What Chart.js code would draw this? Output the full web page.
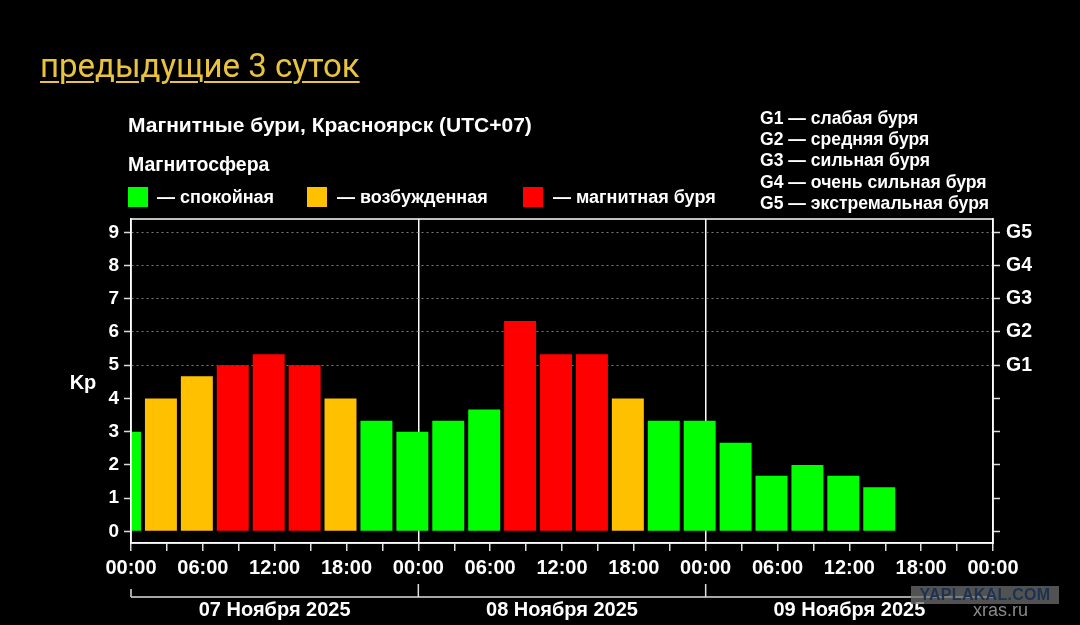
<!DOCTYPE html>
<html>
<head>
<meta charset="utf-8">
<script src="https://cdn.jsdelivr.net/npm/chart.js@4.4.1/dist/chart.umd.min.js"></script>
<style>
  html, body { margin: 0; padding: 0; background: #000; }
  #wrap { position: relative; width: 1080px; height: 625px; overflow: hidden; font-family: "Liberation Sans", Arial, sans-serif; color: #fff; }
  #chart { position: absolute; left: 0; top: 0; }
  .txt { position: absolute; white-space: nowrap; font-weight: bold; font-size: 18px; line-height: 1; }
  .title { position: absolute; left: 40px; top: 46px; font-family: Roboto, sans-serif; font-size: 33px; color: #e9c23e; text-decoration: underline; text-decoration-thickness: 2px; text-underline-offset: 4px; white-space: nowrap; }
  .sq { position: absolute; width: 20px; height: 20px; }
  .glist { position: absolute; left: 760px; top: 108px; font-weight: bold; font-size: 17.6px; line-height: 21.2px; white-space: nowrap; }
  .xras { position: absolute; left: 973px; top: 600px; font-size: 18px; color: #8a8a8a; font-family: "Liberation Sans", Arial, sans-serif; }
  .yap { position: absolute; left: 911px; top: 586px; width: 148px; height: 18px; background: rgba(110,110,110,0.75); color: #1b3350; font-weight: bold; font-size: 16px; line-height: 18px; text-align: center; letter-spacing: 0.3px; }
</style>
</head>
<body>
<div id="wrap">
  <canvas id="chart" width="1080" height="625"></canvas>
  <div class="title">предыдущие 3 суток</div>
  <div class="txt" style="left:128px; top:114px; font-size:21px;">Магнитные бури, Красноярск (UTC+07)</div>
  <div class="txt" style="left:128px; top:155px; font-size:19.5px;">Магнитосфера</div>
  <div class="sq" style="left:128px; top:187px; background:#00ff00;"></div>
  <div class="txt" style="left:157px; top:188px;">— спокойная</div>
  <div class="sq" style="left:307px; top:187px; background:#ffc000;"></div>
  <div class="txt" style="left:337px; top:188px;">— возбужденная</div>
  <div class="sq" style="left:523px; top:187px; background:#ff0000;"></div>
  <div class="txt" style="left:553px; top:188px;">— магнитная буря</div>
  <div class="glist" id="glist"></div>
  <div class="yap">YAPLAKAL.COM</div>
  <div class="xras">xras.ru</div>
</div>
<script>
// Kp index, 3-hour intervals (hours from 07.11 00:00 local)
const barHours = [-0.5, 2.5, 5.5, 8.5, 11.5, 14.5, 17.5, 20.5, 23.5, 26.5, 29.5,
                  32.5, 35.5, 38.5, 41.5, 44.5, 47.5, 50.5, 53.5, 56.5, 59.5, 62.5];
const kpValues = [3, 4, 4.67, 5, 5.33, 5, 4, 3.33, 3, 3.33, 3.67,
                  6.33, 5.33, 5.33, 4, 3.33, 3.33, 2.67, 1.67, 2, 1.67, 1.33];
const yTicks = [0, 1, 2, 3, 4, 5, 6, 7, 8, 9];
const gLabels = ['G1', 'G2', 'G3', 'G4', 'G5'];   // Kp 5..9
const gNames = ['слабая буря', 'средняя буря', 'сильная буря', 'очень сильная буря', 'экстремальная буря'];
const days = ['07 Ноября 2025', '08 Ноября 2025', '09 Ноября 2025'];

document.getElementById('glist').innerHTML =
    gLabels.map((g, i) => `${g} — ${gNames[i]}`).join('<br>');

const kpColor = v => v >= 5 ? '#ff0000' : (v >= 4 ? '#ffc000' : '#00ff00');
const fontFamily = '"Liberation Sans", Arial, sans-serif';

// frame, Kp title and day brackets
const decor = {
    id: 'decor',
    afterDraw(chart) {
        const { ctx, chartArea: a } = chart;
        const x = chart.scales.x;
        ctx.save();
        ctx.strokeStyle = '#fff';
        ctx.lineWidth = 1.5;
        ctx.strokeRect(a.left, a.top, a.right - a.left, a.bottom - a.top);

        ctx.strokeStyle = '#ddd';
        const by = 597;
        ctx.beginPath();
        ctx.moveTo(x.getPixelForValue(0), by);
        ctx.lineTo(x.getPixelForValue(72), by);
        [0, 24, 48, 72].forEach(h => {
            const px = x.getPixelForValue(h);
            ctx.moveTo(px, by);
            ctx.lineTo(px, (h === 0 || h === 72) ? 589 : 584);
        });
        ctx.stroke();

        ctx.fillStyle = '#fff';
        ctx.font = 'bold 20px ' + fontFamily;
        ctx.textAlign = 'center';
        ctx.textBaseline = 'middle';
        days.forEach((d, i) => {
            ctx.fillText(d, x.getPixelForValue(i * 24 + 12), 610);
        });
        ctx.fillText('Kp', 83, 383);
        ctx.restore();
    }
};

new Chart(document.getElementById('chart'), {
    type: 'bar',
    data: {
        datasets: [{
            data: barHours.map((h, i) => ({ x: h, y: kpValues[i] })),
            backgroundColor: kpValues.map(kpColor),
            borderWidth: 0,
            categoryPercentage: 1,
            barPercentage: 0.89,
            yAxisID: 'y'
        }]
    },
    options: {
        responsive: false,
        animation: false,
        devicePixelRatio: 1,
        layout: { padding: { top: 219, left: 0, right: 0, bottom: 0 } },
        plugins: { legend: { display: false }, tooltip: { enabled: false } },
        scales: {
            x: {
                type: 'linear',
                min: 0,
                max: 72,
                offset: false,
                afterBuildTicks: s => { s.ticks = Array.from({ length: 25 }, (_, i) => ({ value: i * 3 })); },
                afterFit: s => { s.height = 82; },
                ticks: {
                    color: '#fff',
                    font: { family: fontFamily, size: 20, weight: 'bold' },
                    padding: 5,
                    maxRotation: 0,
                    autoSkip: false,
                    callback: v => v % 6 === 0 ? String(v % 24).padStart(2, '0') + ':00' : ''
                },
                grid: {
                    offset: false,
                    color: c => (c.tick && (c.tick.value === 24 || c.tick.value === 48)) ? '#fff' : 'rgba(0,0,0,0)',
                    lineWidth: 1.5,
                    tickColor: '#ddd',
                    tickLength: 8,
                    tickWidth: 1.5
                },
                border: { color: '#fff', width: 1.5 }
            },
            y: {
                position: 'left',
                min: -0.35,
                max: 9.4,
                afterBuildTicks: s => { s.ticks = yTicks.map(v => ({ value: v })); },
                afterFit: s => { s.width = 131; },
                ticks: { color: '#fff', font: { family: fontFamily, size: 19, weight: 'bold' }, padding: 5 },
                grid: {
                    color: c => (c.tick && c.tick.value >= 5) ? '#7a7a7a' : 'rgba(0,0,0,0)',
                    lineWidth: 1,
                    tickColor: '#ddd',
                    tickLength: 7,
                    tickWidth: 1.5
                },
                border: { color: '#fff', width: 1.5, dash: [2, 3] }
            },
            y2: {
                position: 'right',
                min: -0.35,
                max: 9.4,
                afterBuildTicks: s => { s.ticks = yTicks.map(v => ({ value: v })); },
                afterFit: s => { s.width = 87; },
                ticks: {
                    color: '#fff',
                    font: { family: fontFamily, size: 19.5, weight: 'bold' },
                    padding: 6,
                    callback: v => v >= 5 ? gLabels[v - 5] : ''
                },
                grid: {
                    drawOnChartArea: false,
                    tickColor: '#ddd',
                    tickLength: 7,
                    tickWidth: 1.5
                },
                border: { color: '#fff', width: 1.5 }
            }
        }
    },
    plugins: [decor]
});
</script>
</body>
</html>
